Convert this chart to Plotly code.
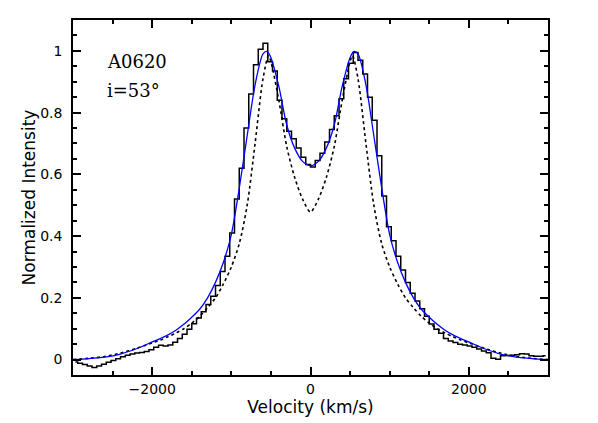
import numpy as np
import plotly.graph_objects as go

# Observed profile (binned, 60 km/s bins), bin centres in km/s
vel_obs = np.arange(-2970, 2971, 60)
flux_obs = [
    -0.008, -0.012, -0.016, -0.021, -0.026, -0.021, -0.015, -0.009, -0.003, 0.003,
    0.009, 0.014, 0.018, 0.021, 0.023, 0.026, 0.032, 0.040, 0.046, 0.044,
    0.047, 0.056, 0.068, 0.082, 0.098, 0.116, 0.135, 0.155, 0.178, 0.205,
    0.240, 0.285, 0.335, 0.410, 0.520, 0.620, 0.750, 0.860, 0.955, 1.005,
    1.025, 0.965, 0.935, 0.840, 0.780, 0.740, 0.715, 0.685, 0.655, 0.632,
    0.624, 0.645, 0.668, 0.705, 0.745, 0.790, 0.845, 0.910, 0.960, 0.995,
    0.970, 0.925, 0.850, 0.775, 0.660, 0.530, 0.430, 0.385, 0.335, 0.290,
    0.250, 0.215, 0.190, 0.165, 0.140, 0.115, 0.098, 0.085, 0.068, 0.060,
    0.055, 0.050, 0.047, 0.044, 0.040, 0.034, 0.028, 0.022, 0.004, 0.001,
    0.012, 0.013, 0.014, 0.016, 0.019, 0.018, 0.012, 0.011, 0.011, 0.012,
]

# Model profiles
vel_model = [-3000, -2800, -2600, -2400, -2200, -2000, -1900, -1800, -1700, -1600,
             -1500, -1400, -1300, -1200, -1100, -1000, -900, -800, -700, -600,
             -550, -500, -400, -300, -200, -100, 0, 100, 200, 300, 400, 500, 550,
             600, 700, 800, 900, 1000, 1100, 1200, 1300, 1400, 1500, 1600, 1700,
             1800, 1900, 2000, 2200, 2400, 2600, 2800, 3000]
flux_fit = [0.0, 0.003, 0.008, 0.018, 0.035, 0.057, 0.068, 0.080, 0.095, 0.114,
            0.137, 0.163, 0.200, 0.250, 0.315, 0.405, 0.555, 0.725, 0.890, 0.990,
            0.998, 0.978, 0.885, 0.760, 0.685, 0.642, 0.628, 0.642, 0.685, 0.760,
            0.885, 0.978, 0.998, 0.990, 0.890, 0.725, 0.555, 0.405, 0.315, 0.250,
            0.200, 0.163, 0.137, 0.114, 0.095, 0.080, 0.068, 0.057, 0.035, 0.018,
            0.008, 0.003, 0.0]

vel_thin = [-3000, -2800, -2600, -2400, -2200, -2000, -1900, -1800, -1700, -1600,
            -1500, -1400, -1300, -1200, -1100, -1000, -900, -800, -700, -600,
            -530, -500, -400, -300, -200, -100, 0, 100, 200, 300, 400, 500, 530,
            600, 700, 800, 900, 1000, 1100, 1200, 1300, 1400, 1500, 1600, 1700,
            1800, 1900, 2000, 2200, 2400, 2600, 2800, 3000]
flux_thin = [0.0, 0.004, 0.010, 0.021, 0.036, 0.054, 0.063, 0.074, 0.086, 0.100,
             0.118, 0.140, 0.168, 0.200, 0.245, 0.300, 0.375, 0.500, 0.700, 0.910,
             0.985, 0.965, 0.840, 0.690, 0.590, 0.520, 0.478, 0.520, 0.590, 0.690,
             0.840, 0.965, 0.985, 0.910, 0.700, 0.500, 0.375, 0.300, 0.245, 0.200,
             0.168, 0.140, 0.118, 0.100, 0.086, 0.074, 0.063, 0.054, 0.036, 0.021,
             0.010, 0.004, 0.0]

x_range = [-3000, 3000]
y_range = [-0.05, 1.1]
x_ticks = [-2000, 0, 2000]
y_ticks = [0, 0.2, 0.4, 0.6, 0.8, 1]
y_ticktext = ["0", "0.2", "0.4", "0.6", "0.8", "1"]

fig = go.Figure()

fig.add_trace(go.Scatter(
    x=vel_thin, y=flux_thin, mode="lines",
    line=dict(color="black", width=1.6, dash="dot", shape="spline", smoothing=0.8),
    showlegend=False
))
fig.add_trace(go.Scatter(
    x=vel_obs, y=flux_obs, mode="lines",
    line=dict(color="black", width=1.5, shape="hvh"),
    showlegend=False
))
fig.add_trace(go.Scatter(
    x=vel_model, y=flux_fit, mode="lines",
    line=dict(color="#0000ff", width=1.3, shape="spline", smoothing=0.8),
    showlegend=False
))

font = dict(family="DejaVu Sans", size=14, color="black")
tick_style = dict(ticks="inside", ticklen=8, tickwidth=1.5, tickcolor="black",
                  showline=True, linecolor="black", linewidth=1.5, mirror=True,
                  showgrid=False, zeroline=False, automargin=False)
x_minor = dict(ticks="inside", dtick=500, tick0=0, ticklen=4,
               tickwidth=1.5, tickcolor="black")
y_minor = dict(ticks="inside", dtick=0.05, tick0=0, ticklen=4,
               tickwidth=1.5, tickcolor="black")

# the page body adds an 8px offset, so the figure is 8px smaller on each side
fig.update_layout(
    width=590, height=415,
    margin=dict(l=65, r=50, t=12, b=48),
    paper_bgcolor="white", plot_bgcolor="white",
    font=font,
    xaxis=dict(
        range=x_range, tickvals=x_ticks, minor=x_minor,
        title=dict(text="Velocity (km/s)", standoff=4),
        **tick_style,
    ),
    yaxis=dict(
        range=y_range, tickvals=y_ticks, ticktext=y_ticktext, minor=y_minor,
        ticklabelstandoff=6,
        title=dict(text="Normalized Intensity", standoff=0),
        **tick_style,
    ),
    # mirrored axes on top and right, ticks only
    xaxis2=dict(
        range=x_range, tickvals=x_ticks, overlaying="x", side="top",
        showticklabels=False, matches="x", minor=x_minor,
        **tick_style,
    ),
    yaxis2=dict(
        range=y_range, tickvals=y_ticks, overlaying="y", side="right",
        showticklabels=False, matches="y", minor=y_minor,
        **tick_style,
    ),
    annotations=[
        dict(text="A0620", x=0.067, y=0.883, xref="paper", yref="paper",
             xanchor="left", yanchor="middle", showarrow=False,
             font=dict(family="DejaVu Serif", size=18, color="black")),
        dict(text="i=53°", x=0.067, y=0.801, xref="paper", yref="paper",
             xanchor="left", yanchor="middle", showarrow=False,
             font=dict(family="DejaVu Serif", size=18, color="black")),
    ],
)

# invisible trace so the mirrored axes are drawn
fig.add_trace(go.Scatter(x=[None], y=[None], xaxis="x2", yaxis="y2",
                         showlegend=False, hoverinfo="skip"))

fig.write_html("out.html")
